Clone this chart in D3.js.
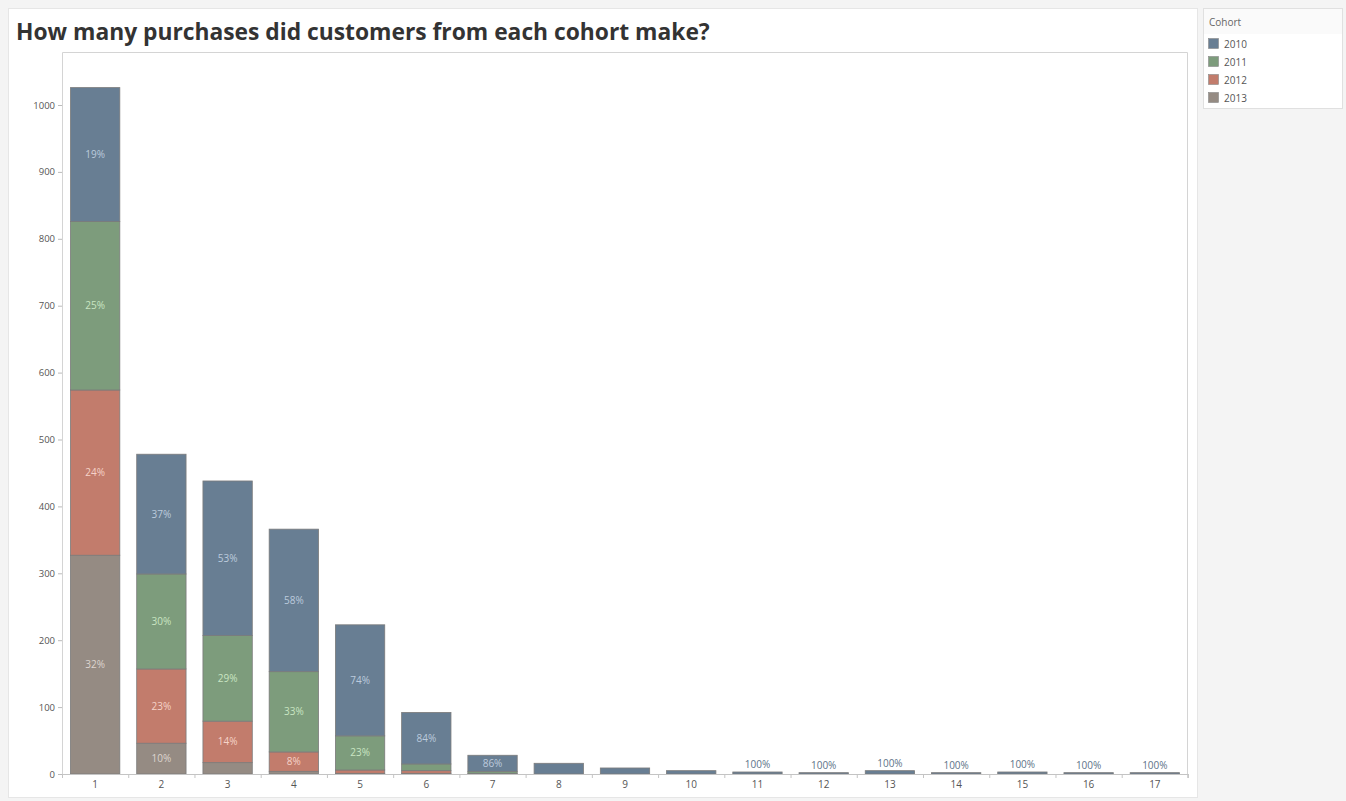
<!DOCTYPE html>
<html>
<head>
<meta charset="utf-8">
<script src="https://cdn.jsdelivr.net/npm/d3@7"></script>
<style>
  body { margin: 0; background: #f4f4f4; font-family: "Open Sans", "DejaVu Sans", sans-serif; }
  svg { display: block; }
</style>
</head>
<body>
<svg id="chart" width="1346" height="801"></svg>
<script>
// purchases per customer (x) and customers in each cohort
const purchases = ['1','2','3','4','5','6','7','8','9','10','11','12','13','14','15','16','17'];
const cohorts = ['2010', '2011', '2012', '2013'];
const c2010 = [200, 179, 231, 213, 166, 77, 24, 16, 9, 5, 3, 2, 5, 2, 3, 2, 2];
const c2011 = [252, 142, 128, 120, 51, 10, 3, 0, 0, 0, 0, 0, 0, 0, 0, 0, 0];
const c2012 = [247, 111, 62, 29, 5, 4, 1, 0, 0, 0, 0, 0, 0, 0, 0, 0, 0];
const c2013 = [327, 46, 17, 4, 1, 1, 0, 0, 0, 0, 0, 0, 0, 0, 0, 0, 0];
// percent labels as shown on the chart ('' = no label)
const lab2010 = ['19%','37%','53%','58%','74%','84%','86%','','','','100%','100%','100%','100%','100%','100%','100%'];
const lab2011 = ['25%','30%','29%','33%','23%','','','','','','','','','','','',''];
const lab2012 = ['24%','23%','14%','8%','','','','','','','','','','','','',''];
const lab2013 = ['32%','10%','','','','','','','','','','','','','','',''];
const yTicks = [0, 100, 200, 300, 400, 500, 600, 700, 800, 900, 1000];

const colors = ['#687e93', '#7d9c7c', '#c27c6c', '#958b83'];
const labelColors = ['#bccbdd', '#c9e5c2', '#f6d3c8', '#ddd5cf'];

const values = [c2010, c2011, c2012, c2013];
const labels = [lab2010, lab2011, lab2012, lab2013];
const rows = purchases.map((p, i) => {
  const r = { p: p };
  cohorts.forEach((c, k) => { r[c] = values[k][i]; r['lab' + c] = labels[k][i]; });
  return r;
});

const svg = d3.select('#chart');

// panels
svg.append('rect').attr('x', 8.5).attr('y', 8.5).attr('width', 1189).attr('height', 789)
  .attr('fill', '#fff').attr('stroke', '#e6e6e6');
svg.append('text').attr('x', 16).attr('y', 40)
  .attr('font-family', '"Open Sans", sans-serif').attr('font-weight', 'bold')
  .attr('font-size', 22.8).attr('fill', '#333')
  .text('How many purchases did customers from each cohort make?');

const pLeft = 62, pRight = 1188, pTop = 52, pBottom = 774;

const x = d3.scaleBand().domain(purchases).range([pLeft, pRight]).paddingInner(0.255).paddingOuter(0.128);
const y = d3.scaleLinear().domain([0, 1000]).range([pBottom, pBottom - 669]);

// frame
svg.append('path').attr('d', `M${pLeft + 0.5},${pBottom}V${pTop + 0.5}H${pRight - 0.5}V${pBottom + 4}`)
  .attr('fill', 'none').attr('stroke', '#d4d4d4');

// stack order: 2013 at bottom, 2010 on top
const stack = d3.stack().keys(['2013', '2012', '2011', '2010']);
const series = stack(rows);

const g = svg.append('g');
series.forEach(s => {
  const k = cohorts.indexOf(s.key);
  g.selectAll(null).data(s.filter(d => d[1] > d[0])).join('rect')
    .attr('x', d => x(d.data.p))
    .attr('width', x.bandwidth())
    .attr('y', d => y(d[1]))
    .attr('height', d => y(d[0]) - y(d[1]))
    .attr('fill', colors[k])
    .attr('stroke', '#7b7b7b')
    .attr('stroke-width', 0.8);
});

// labels
series.forEach(s => {
  const k = cohorts.indexOf(s.key);
  s.forEach(d => {
    const t = d.data['lab' + s.key];
    if (!t) return;
    const h = y(d[0]) - y(d[1]);
    const inside = h > 14;
    g.append('text')
      .attr('x', x(d.data.p) + x.bandwidth() / 2)
      .attr('y', inside ? (y(d[0]) + y(d[1])) / 2 + 3.5 : y(d[1]) - 4)
      .attr('text-anchor', 'middle')
      .attr('font-size', 10)
      .attr('fill', inside ? labelColors[k] : '#5d7388')
      .text(t);
  });
});

// y axis
const yAxis = svg.append('g').attr('transform', `translate(${pLeft},0)`)
  .call(d3.axisLeft(y).tickValues(yTicks).tickFormat(d3.format('d')).tickSize(4).tickPadding(3));
yAxis.select('.domain').remove();
yAxis.selectAll('line').attr('stroke', '#bbb');
yAxis.selectAll('text').attr('fill', '#555').attr('font-size', 9.5).attr('font-family', '"Open Sans", sans-serif');

// x axis
const xAxis = svg.append('g').attr('transform', `translate(0,${pBottom})`)
  .call(d3.axisBottom(x).tickSize(0).tickPadding(7));
xAxis.select('.domain').attr('stroke', '#c4c4c4');
xAxis.selectAll('text').attr('fill', '#555').attr('font-size', 10).attr('font-family', '"Open Sans", sans-serif');
const step = x.step();
svg.append('g').selectAll('line').data(purchases.concat(['end'])).join('line')
  .attr('x1', (d, i) => pLeft + i * step + 0.5)
  .attr('x2', (d, i) => pLeft + i * step + 0.5)
  .attr('y1', pBottom).attr('y2', pBottom + 4)
  .attr('stroke', '#c4c4c4');

// legend
const lg = svg.append('g');
lg.append('rect').attr('x', 1203.5).attr('y', 8.5).attr('width', 139).attr('height', 100)
  .attr('fill', '#fff').attr('stroke', '#e0e0e0');
lg.append('rect').attr('x', 1204).attr('y', 9).attr('width', 138).attr('height', 25).attr('fill', '#fafafa');
lg.append('text').attr('x', 1209).attr('y', 26).attr('font-size', 10).attr('fill', '#666').text('Cohort');
cohorts.forEach((c, i) => {
  lg.append('rect').attr('x', 1208.5).attr('y', 38.5 + i * 18).attr('width', 10).attr('height', 10)
    .attr('fill', colors[i]).attr('stroke', '#888').attr('stroke-width', 0.6);
  lg.append('text').attr('x', 1224).attr('y', 47.5 + i * 18).attr('font-size', 10).attr('fill', '#555').text(c);
});
</script>
</body>
</html>
